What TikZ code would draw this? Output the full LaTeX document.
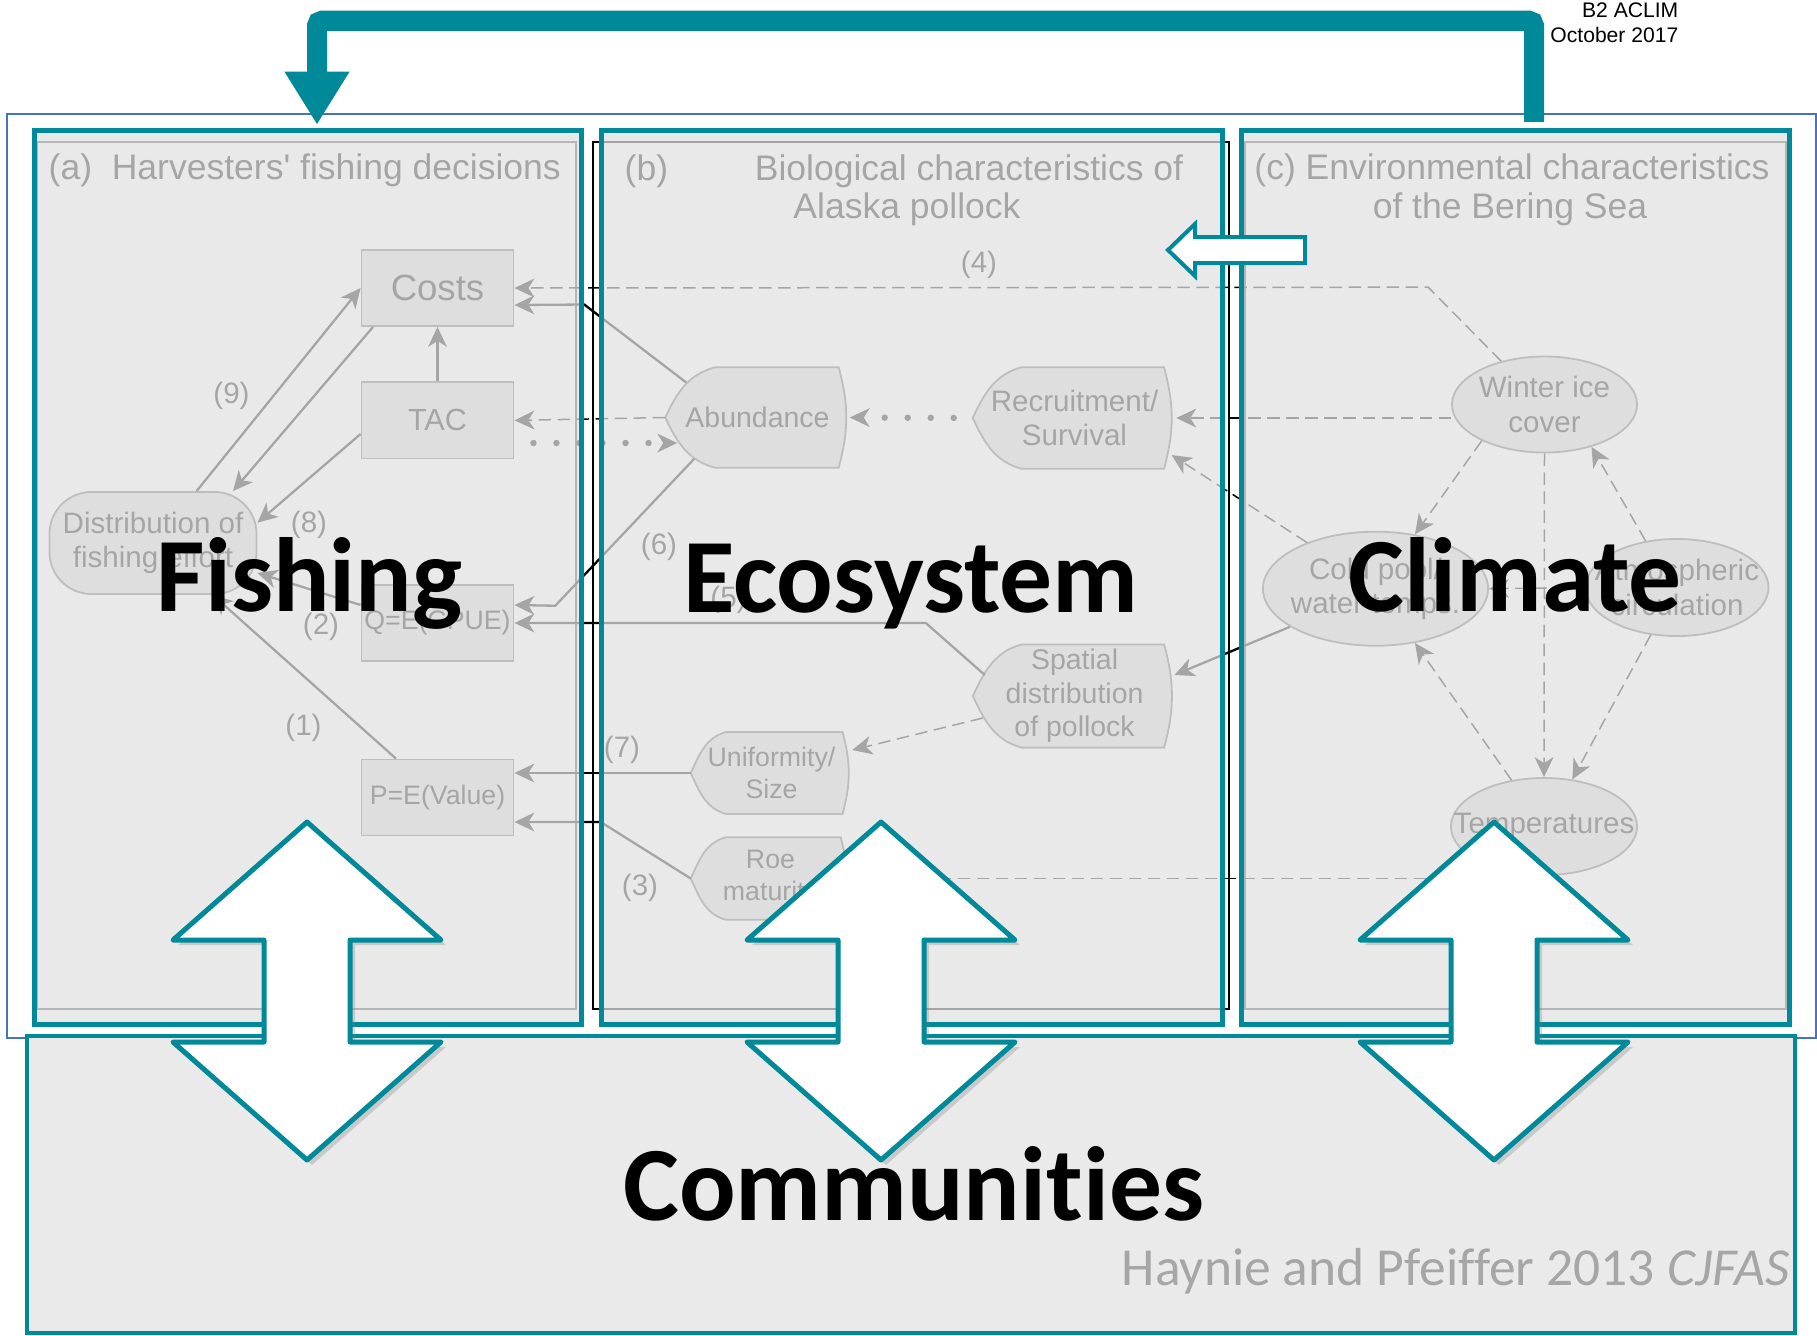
\documentclass[tikz,border=0pt]{standalone}
\usepackage{fontspec}
\setmainfont{Liberation Sans}
\newfontfamily\calfont[Ligatures={NoCommon}]{Carlito}
\usetikzlibrary{arrows.meta,positioning,calc,shapes.geometric,shadows}
\definecolor{aclimteal}{RGB}{0,137,152}
\definecolor{veilgray}{RGB}{226,226,226}
\definecolor{frameblue}{HTML}{4472C4}
\definecolor{notegray}{RGB}{166,166,166}
\definecolor{commgray}{RGB}{234,234,234}
\pgfdeclarelayer{paper}
\pgfdeclarelayer{under}
\pgfsetlayers{paper,under,main}

% outline of the pollock boxes: flat top and bottom, pointed left side
\newcommand{\fishoutline}[2]{%
  \begin{pgfonlayer}{under}
    \draw[black!64, fill=black!17, line width=0.018cm]
      ($(#1.north west)!#2!(#1.north east)$) -- ($(#1.north west)!0.94!(#1.north east)$)
      to[out=-75, in=75] ($(#1.south west)!0.94!(#1.south east)$)
      -- ($(#1.south west)!#2!(#1.south east)$)
      to[out=165, in=-65] (#1.west)
      to[out=65, in=195] cycle;
  \end{pgfonlayer}}

\begin{document}
\begin{tikzpicture}[
        x=0.01cm, y=-0.01cm,
        font=\fontsize{8.4}{9.8}\selectfont,
        >={Stealth[length=0.2cm, width=0.19cm, inset=0.06cm, line width=0pt]},
        fbox/.style={draw=black!64, fill=black!17, line width=0.018cm,
                   minimum width=1.52cm, minimum height=0.76cm, inner sep=0pt},
        effort/.style={draw=black!64, fill=black!17, line width=0.018cm,
                   rounded corners=0.42cm, minimum width=2.07cm,
                   minimum height=1.02cm, inner sep=0pt, align=center},
        bio/.style={inner sep=0pt, align=center},
        clim/.style={ellipse, draw=black!64, fill=black!17, line width=0.018cm,
                   inner xsep=-0.3cm, inner ysep=-0.1cm, align=center},
        ttl/.style={font=\fontsize{10.1}{12}\selectfont, inner sep=0pt},
        numlbl/.style={inner sep=0pt},
        link/.style={->, line width=0.023cm},
        dlink/.style={->, line width=0.015cm, dash pattern=on 0.125cm off 0.065cm},
        dotlink/.style={->, line width=0.065cm, line cap=round,
                   dash pattern=on 0pt off 0.23cm, shorten <=0.19cm},
        panel/.style={draw=aclimteal, line width=0.05cm, fill=veilgray,
                   fill opacity=0.733, inner sep=0pt, outer sep=0pt},
        loopline/.style={aclimteal, line width=0.2cm, rounded corners=0.05cm,
                   -{Triangle[length=0.53cm, width=0.61cm]}},
        blockarrow/.style={draw=aclimteal, fill=white, line width=0.04cm},
        bigarrow/.style={draw=aclimteal, fill=white, line width=0.05cm, line join=round,
                   drop shadow={opacity=0.3, shadow xshift=0.05cm, shadow yshift=-0.05cm}},
        biglbl/.style={font=\calfont\bfseries\fontsize{30}{36}\selectfont, inner sep=0pt},
    ]
        \begin{pgfonlayer}{paper}
            \fill[white] (0,0) rectangle (1817,1335);
        \end{pgfonlayer}
        \useasboundingbox (0,0) rectangle (1817,1335);
        \draw[frameblue, line width=0.02cm] (7,113.5) rectangle (1815.5,1038);
        \node[anchor=north east, align=right, inner sep=0pt,
              font=\fontsize{6}{7.26}\selectfont] (tag) at (1679,2)
            {B2 ACLIM\\October 2017};

        % Frames and titles of the three panels.
        \draw[black!75, line width=0.015cm] (37,142) rectangle (576,1009);
        \draw[black, line width=0.012cm] (593,142) rectangle (1229,1009);
        \draw[black!75, line width=0.015cm] (1245,142) rectangle (1786,1009);
        \node[ttl, anchor=base west] (ttla) at (48,179)
            {(a)\ \ Harvesters\textquotesingle\ fishing decisions};
        \node[ttl, anchor=base west] (ttlb) at (624,180) {(b)};
        \node[ttl, anchor=base] (ttlbone) at (969,180) {Biological characteristics of};
        \node[ttl, anchor=base] (ttlbtwo) at (907,218) {Alaska pollock};
        \node[ttl, anchor=base] (ttlcone) at (1512,179) {(c) Environmental characteristics};
        \node[ttl, anchor=base] (ttlctwo) at (1510,218) {of the Bering Sea};

        % Harvesters' decisions.
        \node[fbox, font=\fontsize{10.4}{12}\selectfont] (costs) at (437.5,288) {Costs};
        \node[fbox, font=\fontsize{8.7}{10}\selectfont] (tac) at (437.5,420.4) {TAC};
        \node[fbox, font=\fontsize{7.6}{9}\selectfont] (qcpue) at (437.5,623) {Q=E(CPUE)};
        \node[fbox, font=\fontsize{7.6}{9}\selectfont] (pval) at (437.5,797.5) {P=E(Value)};
        \node[effort] (effort) at (153,543) {Distribution of\\fishing effort};
        \draw[link] (effort.50) -- (costs.west);
        \draw[link] ([xshift=0.125cm]costs.south west) -- (effort.33);
        \draw[link] (tac.north) -- (costs.south);
        \draw[link] ([yshift=-0.136cm]tac.west) -- (effort.11);
        \draw[link] ([yshift=0.18cm]qcpue.west) -- (effort.-16);
        \draw[link] ([xshift=-0.415cm]pval.north) -- (effort.-41);
        \node[numlbl] (nnine)  at (231.5,396) {(9)};
        \node[numlbl] (neight) at (309,525)   {(8)};
        \node[numlbl] (ntwo)   at (321,627)   {(2)};
        \node[numlbl] (none)   at (303.5,727.5) {(1)};

        % Pollock.
        \node[bio, minimum width=1.83cm, minimum height=0.99cm,
              font=\fontsize{8.1}{9.6}\selectfont] (abund) at (757.5,417.5) {Abundance};
        \fishoutline{abund}{0.27}
        \node[bio, minimum width=2.02cm, minimum height=1cm] (recr) at (1074.5,418)
            {Recruitment/\\Survival};
        \fishoutline{recr}{0.24}
        \node[bio, minimum width=2.02cm, minimum height=1.017cm,
              font=\fontsize{8.1}{9.5}\selectfont] (spat) at (1074.6,696)
            {Spatial\\distribution\\of pollock};
        \fishoutline{spat}{0.24}
        \node[bio, minimum width=1.6cm, minimum height=0.806cm,
              font=\fontsize{7.6}{9.1}\selectfont] (unif) at (771.5,773) {Uniformity/\\Size};
        \fishoutline{unif}{0.22}
        \node[bio, minimum width=1.58cm, minimum height=0.81cm,
              font=\fontsize{7.6}{9.1}\selectfont] (roe) at (770.5,878.5) {Roe\\maturity};
        \fishoutline{roe}{0.22}
        \draw[dotlink] (recr.west) -- (abund.east);
        \draw[dlink] (abund.west) -- (tac.east);
        \draw[dotlink] ([yshift=-0.226cm]tac.east) -- ($(abund.west)+(12,25.5)$);
        \draw[link] ($(abund.west)+(21,-35)$) -- ++(-102,-78) -- ([yshift=-0.17cm]costs.east);
        \draw[link] ($(abund.south west)+(29,-9)$) -- ++(-139,147) -- ([yshift=0.18cm]qcpue.east);
        \draw[link] ($(spat.west)+(12,-21)$) -- ++(-59,-52) -- (qcpue.east);
        \draw[link] (unif.west) -- (unif.west -| pval.east);
        \draw[link] (roe.west) -- ++(-90,-56.5) coordinate (roebend) -- (roebend -| pval.east);
        \draw[dlink] ($(spat.west)+(10,22)$) -- ($(unif.east)+(0,-23)$);
        \node[numlbl] (nfour)  at (979,265)   {(4)};
        \node[numlbl] (nsix)   at (659,546.5) {(6)};
        \node[numlbl] (nfive)  at (728.5,600) {(5)};
        \node[numlbl] (nseven) at (622,750)   {(7)};
        \node[numlbl] (nthree) at (640,888)   {(3)};

        % Bering Sea.
        \node[clim, minimum width=1.85cm, minimum height=0.96cm] (winter) at (1544.5,404.5)
            {Winter ice\\cover};
        \node[clim, minimum width=2.25cm, minimum height=1.14cm] (coldp) at (1375.5,588.7)
            {Cold pool/\\water temps.};
        \node[clim, minimum width=1.83cm, minimum height=0.97cm] (atmos) at (1677,587.5)
            {Atmospheric\\circulation};
        \node[clim, minimum width=1.86cm, minimum height=0.97cm] (temps) at (1544,826.5)
            {Temperatures};
        \draw[dlink] (winter.210) -- (coldp.54);
        \draw[dlink] (winter.south) -- (temps.north);
        \draw[dlink] (atmos.124) -- (winter.-42);
        \draw[dlink] (atmos.-119) -- (temps.59);
        \draw[dlink] (temps.125) -- (coldp.-54);
        \draw[dlink] (atmos.west) -- (coldp.east);
        \draw[dlink] (winter.135) -- ++(-73,-74) -- (costs.east);
        \draw[dlink] (winter.west |- recr.east) -- (recr.east);
        \draw[dlink] (coldp.146) -- ($(recr.east)+(-4.6,37)$);
        \draw[link] (coldp.204) -- ($(spat.east)+(-2,-21)$);
        \draw[dlink] (temps.240) |- (roe.east);

        % Veiled panels and the communities box.
        \node[panel, minimum width=5.46cm, minimum height=8.935cm] (panA) at (308,577.25) {};
        \node[panel, minimum width=6.2cm, minimum height=8.935cm] (panB) at (912,577.25) {};
        \node[panel, minimum width=5.47cm, minimum height=8.935cm] (panC) at (1515.5,577.25) {};
        \node[draw=aclimteal, line width=0.04cm, fill=commgray, inner sep=0pt,
              minimum width=17.66cm, minimum height=2.97cm] (comm) at (911,1184.5) {};

        % Feedback loop and arrows.
        \coordinate (loopR) at ([xshift=0.185cm, yshift=0.085cm]panC.north);
        \coordinate (loopL) at ([xshift=0.09cm, yshift=0.055cm]panA.north);
        \draw[loopline] (loopR) |- ($(loopL)+(0,-104)$) -- (loopL);
        \draw[blockarrow] (1168,250) -- (1195,224) -- (1195,237) -- (1305,237)
            -- (1305,263) -- (1195,263) -- (1195,276) -- cycle;
        \foreach \cx in {307,881,1494}{
            \draw[bigarrow] (\cx,822) -- ++(134,118) -- ++(-91,0) -- ++(0,102)
                -- ++(91,0) -- (\cx,1160) -- ++(-134,-118) -- ++(91,0)
                -- ++(0,-102) -- ++(-91,0) -- cycle;}

        % Headline labels.
        \node[biglbl, anchor=base] (fishlbl) at (309.5,611) {Fishing};
        \node[biglbl, anchor=base] (ecolbl)  at (910.8,612) {Ecosystem};
        \node[biglbl, anchor=base] (climlbl) at (1515,611.7) {Climate};
        \node[biglbl, anchor=base] (commlbl) at (913.7,1220) {Communities};
        \node[anchor=base east, inner sep=0pt, text=notegray,
              font=\calfont\fontsize{15.2}{18}\selectfont] (cite) at (1790,1285)
            {Haynie and Pfeiffer 2013 \textit{CJFAS}};
    \end{tikzpicture}
\end{document}
